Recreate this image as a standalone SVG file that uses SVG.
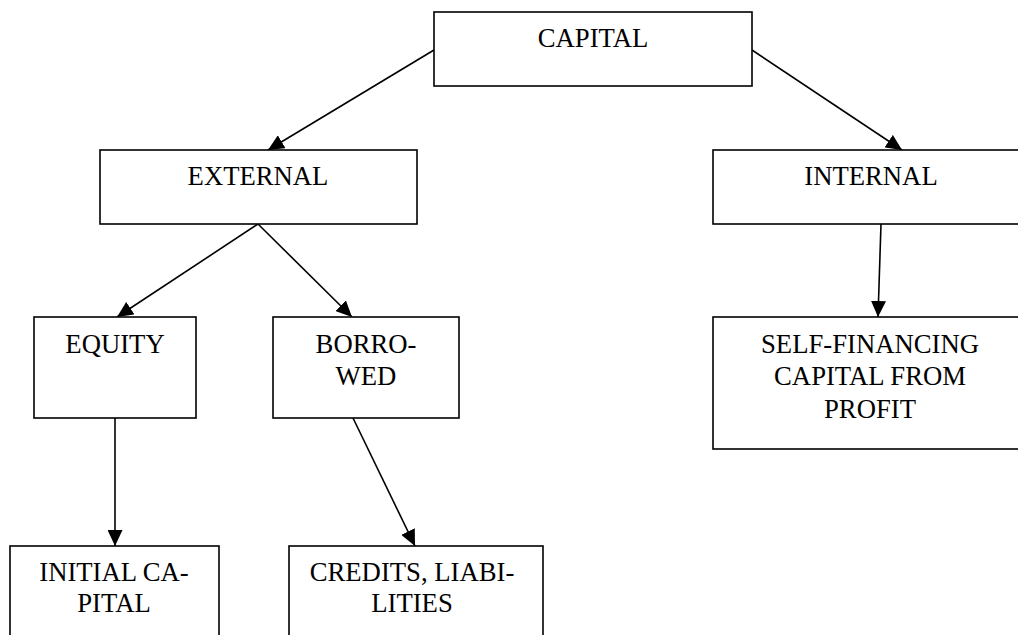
<svg xmlns="http://www.w3.org/2000/svg" width="1018" height="635" viewBox="0 0 1018 635">
  <style>
    .box { fill: #ffffff; stroke: #000000; stroke-width: 1.6; }
    .lbl { font-family: "Liberation Serif", "Times New Roman", serif; font-size: 26.7px; fill: #000000; text-anchor: middle; }
    .edge { fill: none; stroke: #000000; stroke-width: 1.6; marker-end: url(#arrow); }
  </style>
  <defs>
    <marker id="arrow" markerUnits="userSpaceOnUse" markerWidth="16" markerHeight="15" viewBox="0 0 16 15" refX="16" refY="7.5" orient="auto">
      <path d="M0,0 L16,7.5 L0,15 Z" fill="#000000"/>
    </marker>
  </defs>
  <rect width="1018" height="635" fill="#ffffff"/>

  <!-- connectors -->
  <g id="connectors">
    <line class="edge" x1="434" y1="50" x2="268" y2="150"/>
    <line class="edge" x1="752" y1="50" x2="902" y2="150"/>
    <line class="edge" x1="258" y1="224" x2="117" y2="317"/>
    <line class="edge" x1="258" y1="224" x2="352" y2="317"/>
    <line class="edge" x1="115" y1="418" x2="115" y2="546"/>
    <line class="edge" x1="353" y1="418" x2="415" y2="546"/>
    <line class="edge" x1="881" y1="224" x2="878" y2="317"/>
  </g>

  <!-- nodes -->
  <g id="capital">
    <rect class="box" x="434" y="12" width="318" height="74"/>
    <text class="lbl" x="593" y="47">CAPITAL</text>
  </g>
  <g id="external">
    <rect class="box" x="100" y="150" width="317" height="74"/>
    <text class="lbl" x="258" y="185">EXTERNAL</text>
  </g>
  <g id="internal">
    <rect class="box" x="713" y="150" width="320" height="74"/>
    <text class="lbl" x="871" y="185">INTERNAL</text>
  </g>
  <g id="equity">
    <rect class="box" x="34" y="317" width="162" height="101"/>
    <text class="lbl" x="115" y="353">EQUITY</text>
  </g>
  <g id="borrowed">
    <rect class="box" x="273" y="317" width="186" height="101"/>
    <text class="lbl" x="366" y="353">BORRO-</text>
    <text class="lbl" x="366" y="385">WED</text>
  </g>
  <g id="self-financing">
    <rect class="box" x="713" y="317" width="320" height="132"/>
    <text class="lbl" x="870" y="353">SELF-FINANCING</text>
    <text class="lbl" x="870" y="385">CAPITAL FROM</text>
    <text class="lbl" x="870" y="418">PROFIT</text>
  </g>
  <g id="initial-capital">
    <rect class="box" x="10" y="546" width="209" height="110"/>
    <text class="lbl" x="114" y="581">INITIAL CA-</text>
    <text class="lbl" x="114" y="612">PITAL</text>
  </g>
  <g id="credits">
    <rect class="box" x="289" y="546" width="254" height="110"/>
    <text class="lbl" x="412" y="581">CREDITS, LIABI-</text>
    <text class="lbl" x="412" y="612">LITIES</text>
  </g>
</svg>
